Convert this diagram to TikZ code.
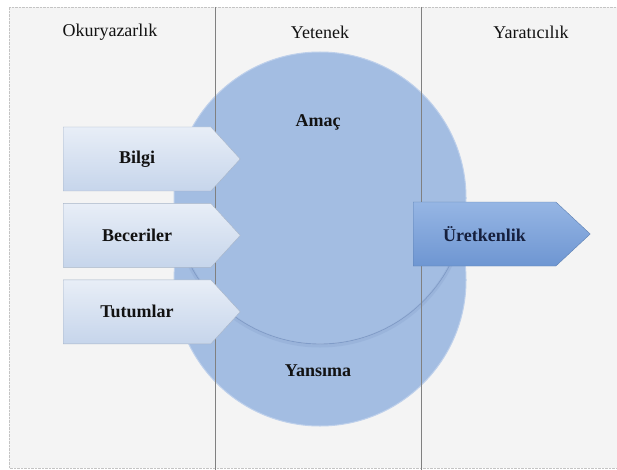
\documentclass[tikz,border=0pt]{standalone}
\usepackage{fontspec}
\setmainfont{Liberation Serif}
\usetikzlibrary{shapes.symbols,positioning}
\definecolor{Panel}{RGB}{244,244,244}
\definecolor{Frame}{RGB}{196,196,196}
\definecolor{Divider}{RGB}{128,128,128}
\definecolor{Bubble}{RGB}{163,189,226}
\definecolor{BubbleRim}{RGB}{190,208,235}
\definecolor{BubbleEdge}{RGB}{128,156,200}
\definecolor{InLight}{RGB}{232,238,247}
\definecolor{InDark}{RGB}{198,213,235}
\definecolor{OutLight}{RGB}{150,182,228}
\definecolor{OutDark}{RGB}{110,150,210}
\definecolor{Ink}{RGB}{18,18,18}
\definecolor{OutInk}{RGB}{22,32,62}

\begin{document}
\begin{tikzpicture}[
  x=1pt, y=-1pt,
  font=\fontsize{18}{21}\selectfont,
  header/.style={text=Ink},
  label/.style={text=Ink, font=\fontsize{18}{21}\selectfont\bfseries},
  bubble/.style={circle, fill=Bubble, draw=BubbleRim, line width=1pt, minimum size=292pt},
  pointer/.style={signal, signal to=east, minimum width=177pt, minimum height=64pt,
    inner sep=0pt, line width=0.4pt, font=\fontsize{18}{21}\selectfont\bfseries},
  inarrow/.style={pointer, signal pointer angle=95, top color=InLight, bottom color=InDark,
    draw=InDark!85!black, text=Ink},
  outarrow/.style={pointer, signal pointer angle=86, top color=OutLight, bottom color=OutDark,
    draw=OutDark!85!black, text=OutInk}
]
  % panel
  \useasboundingbox (0,0) rectangle (617,470);
  \fill[Panel] (9,7) rectangle (617,468);
  \draw[Frame, densely dotted] (617,7) -- (9,7) -- (9,468) -- (617,468);

  % the two bubbles
  \node[bubble] (yansima) at (320,280) {};
  \node[bubble] (amac) at (320,198) {};
  \begin{scope}
    \clip (320,280) circle[radius=145];
    \draw[BubbleEdge, opacity=0.25, line width=4pt] (320,199.5) circle[radius=146];
    \draw[BubbleEdge, line width=0.9pt] (320,198) circle[radius=146];
  \end{scope}
  \node[label] (amaclbl) at (318,122) {Amaç};
  \node[label] (yansimalbl) at (318,371) {Yansıma};

  % column dividers
  \draw[Divider, line width=0.7pt] (215,7) -- (215,470);
  \draw[Divider, line width=0.7pt] (421,7) -- (421,470);

  % column titles
  \node[header] (okur) at (110,32) {Okuryazarlık};
  \node[header] (yetenek) at (320,32) {Yetenek};
  \node[header] (yarat) at (531,32) {Yaratıcılık};

  % arrows
  \node[inarrow, anchor=west] (bilgi) at (63,159) {Bilgi};
  \node[inarrow, below=12pt of bilgi] (beceri) {Beceriler};
  \node[inarrow, below=12pt of beceri] (tutum) {Tutumlar};
  \node[outarrow, anchor=west] (uretken) at (413,234) {Üretkenlik};
\end{tikzpicture}
\end{document}
